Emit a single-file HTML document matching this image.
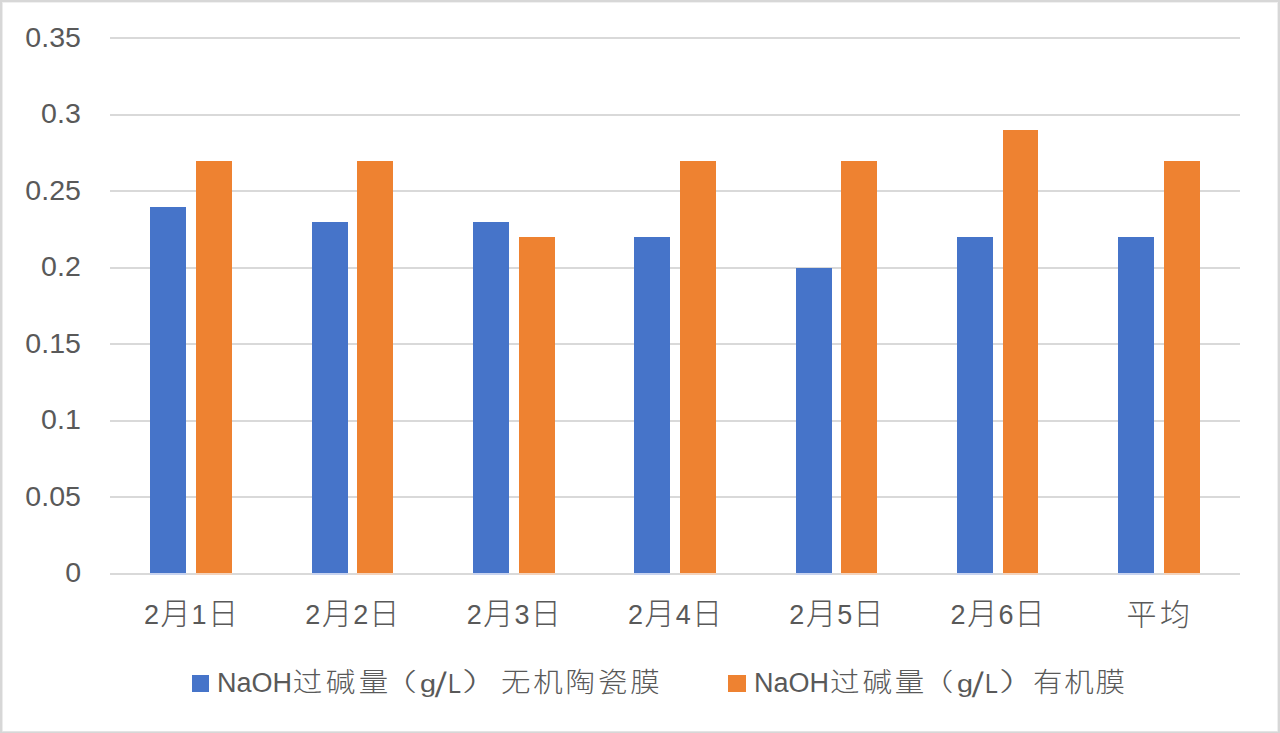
<!DOCTYPE html>
<html><head><meta charset="utf-8">
<style>
html,body{margin:0;padding:0;background:#fff;}
#c{position:relative;width:1280px;height:733px;overflow:hidden;background:#fff;}
.bd{position:absolute;background:#d7d7d7;}
.gl{position:absolute;left:110px;width:1130px;height:2px;background:#d9d9d9;}
.bar{position:absolute;}
.sq{position:absolute;}
#c span{white-space:pre;color:#595959;line-height:1;font-family:"Liberation Sans","Noto Sans CJK SC",sans-serif;}
#c span.solo{position:absolute;}
#c span.grp{position:absolute;left:0;top:0;font-size:0;}
#c span.ch{position:relative;display:inline-block;vertical-align:top;}
#c span.ylab{font-size:27.2px;display:inline-block;transform:scaleX(1.05);transform-origin:100% 0;}
#c span.lat{font-size:27px;}
#c span.cjkx{font-size:30px;font-weight:300;}
#c span.sl{font-size:33px;}
#c span.cjkp{font-size:29.5px;font-weight:300;}
#c span.cjk{font-size:29.5px;font-weight:300;display:inline-block;transform:scaleY(0.94);transform-origin:0 0;}
</style></head><body>
<div id="c">
<div class="bd" style="left:0;top:2px;width:1280px;height:1px;background:#f0f0f0"></div>
<div class="bd" style="left:2px;top:0;width:1px;height:733px;background:#ececec"></div>
<div class="bd" style="left:1277px;top:0;width:1px;height:733px;background:#efefef"></div>
<div class="bd" style="left:0;top:731px;width:1280px;height:1px;background:#e4e4e4"></div>
<div class="bd" style="left:0;top:0;width:1280px;height:2px"></div>
<div class="bd" style="left:0;top:0;width:2px;height:733px"></div>
<div class="bd" style="left:1278px;top:0;width:2px;height:733px"></div>
<div class="bd" style="left:0;top:732px;width:1280px;height:1px"></div>
<div class="gl" style="top:37.00px"></div>
<div class="gl" style="top:113.52px"></div>
<div class="gl" style="top:190.04px"></div>
<div class="gl" style="top:266.56px"></div>
<div class="gl" style="top:343.08px"></div>
<div class="gl" style="top:419.60px"></div>
<div class="gl" style="top:496.12px"></div>
<div class="gl" style="top:573px"></div>
<div class="bar" style="left:150.30px;top:206.71px;width:36.2px;height:366.29px;background:#4674C9"></div>
<div class="bar" style="left:150.30px;top:573px;width:36.2px;height:2px;background:#c8d3ee"></div>
<div class="bar" style="left:196.10px;top:160.71px;width:35.8px;height:412.29px;background:#EE8231"></div>
<div class="bar" style="left:196.10px;top:573px;width:35.8px;height:2px;background:#f2d3bd"></div>
<div class="bar" style="left:311.62px;top:222.04px;width:36.2px;height:350.96px;background:#4674C9"></div>
<div class="bar" style="left:311.62px;top:573px;width:36.2px;height:2px;background:#c8d3ee"></div>
<div class="bar" style="left:357.42px;top:160.71px;width:35.8px;height:412.29px;background:#EE8231"></div>
<div class="bar" style="left:357.42px;top:573px;width:35.8px;height:2px;background:#f2d3bd"></div>
<div class="bar" style="left:472.94px;top:222.04px;width:36.2px;height:350.96px;background:#4674C9"></div>
<div class="bar" style="left:472.94px;top:573px;width:36.2px;height:2px;background:#c8d3ee"></div>
<div class="bar" style="left:518.74px;top:237.37px;width:35.8px;height:335.63px;background:#EE8231"></div>
<div class="bar" style="left:518.74px;top:573px;width:35.8px;height:2px;background:#f2d3bd"></div>
<div class="bar" style="left:634.26px;top:237.37px;width:36.2px;height:335.63px;background:#4674C9"></div>
<div class="bar" style="left:634.26px;top:573px;width:36.2px;height:2px;background:#c8d3ee"></div>
<div class="bar" style="left:680.06px;top:160.71px;width:35.8px;height:412.29px;background:#EE8231"></div>
<div class="bar" style="left:680.06px;top:573px;width:35.8px;height:2px;background:#f2d3bd"></div>
<div class="bar" style="left:795.58px;top:268.04px;width:36.2px;height:304.96px;background:#4674C9"></div>
<div class="bar" style="left:795.58px;top:573px;width:36.2px;height:2px;background:#c8d3ee"></div>
<div class="bar" style="left:841.38px;top:160.71px;width:35.8px;height:412.29px;background:#EE8231"></div>
<div class="bar" style="left:841.38px;top:573px;width:35.8px;height:2px;background:#f2d3bd"></div>
<div class="bar" style="left:956.90px;top:237.37px;width:36.2px;height:335.63px;background:#4674C9"></div>
<div class="bar" style="left:956.90px;top:573px;width:36.2px;height:2px;background:#c8d3ee"></div>
<div class="bar" style="left:1002.70px;top:130.04px;width:35.8px;height:442.96px;background:#EE8231"></div>
<div class="bar" style="left:1002.70px;top:573px;width:35.8px;height:2px;background:#f2d3bd"></div>
<div class="bar" style="left:1118.22px;top:237.37px;width:36.2px;height:335.63px;background:#4674C9"></div>
<div class="bar" style="left:1118.22px;top:573px;width:36.2px;height:2px;background:#c8d3ee"></div>
<div class="bar" style="left:1164.02px;top:160.71px;width:35.8px;height:412.29px;background:#EE8231"></div>
<div class="bar" style="left:1164.02px;top:573px;width:35.8px;height:2px;background:#f2d3bd"></div>
<div class="sq" style="left:191.5px;top:674.8px;width:17.5px;height:16.8px;background:#4674C9"></div>
<div class="sq" style="left:728.2px;top:674.8px;width:17.5px;height:16.8px;background:#EE8231"></div>
<span class="grp"><span class="lat ch" id="g0_0" style="left:144.00px;top:601.60px;">2</span><span class="cjkx ch" id="g0_1" style="left:145.57px;top:599.40px;">月</span><span class="lat ch" id="g0_2" style="left:146.37px;top:601.60px;">1</span><span class="cjkx ch" id="g0_3" style="left:147.94px;top:598.60px;">日</span></span>
<span class="grp"><span class="lat ch" id="g1_0" style="left:305.32px;top:601.60px;">2</span><span class="cjkx ch" id="g1_1" style="left:306.89px;top:599.40px;">月</span><span class="lat ch" id="g1_2" style="left:308.19px;top:601.60px;">2</span><span class="cjkx ch" id="g1_3" style="left:309.26px;top:598.60px;">日</span></span>
<span class="grp"><span class="lat ch" id="g2_0" style="left:466.64px;top:601.60px;">2</span><span class="cjkx ch" id="g2_1" style="left:468.21px;top:599.40px;">月</span><span class="lat ch" id="g2_2" style="left:469.51px;top:601.60px;">3</span><span class="cjkx ch" id="g2_3" style="left:470.58px;top:598.60px;">日</span></span>
<span class="grp"><span class="lat ch" id="g3_0" style="left:627.96px;top:601.60px;">2</span><span class="cjkx ch" id="g3_1" style="left:629.53px;top:599.40px;">月</span><span class="lat ch" id="g3_2" style="left:630.83px;top:601.60px;">4</span><span class="cjkx ch" id="g3_3" style="left:631.90px;top:598.60px;">日</span></span>
<span class="grp"><span class="lat ch" id="g4_0" style="left:789.28px;top:601.60px;">2</span><span class="cjkx ch" id="g4_1" style="left:790.85px;top:599.40px;">月</span><span class="lat ch" id="g4_2" style="left:792.15px;top:601.60px;">5</span><span class="cjkx ch" id="g4_3" style="left:793.22px;top:598.60px;">日</span></span>
<span class="grp"><span class="lat ch" id="g5_0" style="left:950.60px;top:601.60px;">2</span><span class="cjkx ch" id="g5_1" style="left:952.17px;top:599.40px;">月</span><span class="lat ch" id="g5_2" style="left:953.47px;top:601.60px;">6</span><span class="cjkx ch" id="g5_3" style="left:954.54px;top:598.60px;">日</span></span>
<span class="cjkx solo" id="g6_0" style="left:1126.40px;top:599.90px;letter-spacing:3.70px;">平均</span>
<span class="ylab solo" id="g7_0" style="left:27.50px;top:23.65px;">0.35</span>
<span class="ylab solo" id="g8_0" style="left:42.50px;top:100.17px;">0.3</span>
<span class="ylab solo" id="g9_0" style="left:27.50px;top:176.69px;">0.25</span>
<span class="ylab solo" id="g10_0" style="left:42.50px;top:253.21px;">0.2</span>
<span class="ylab solo" id="g11_0" style="left:27.50px;top:329.73px;">0.15</span>
<span class="ylab solo" id="g12_0" style="left:42.50px;top:406.25px;">0.1</span>
<span class="ylab solo" id="g13_0" style="left:27.50px;top:482.77px;">0.05</span>
<span class="ylab solo" id="g14_0" style="left:65.50px;top:559.29px;">0</span>
<span class="grp"><span class="lat ch" id="g15_0" style="left:216.90px;top:670.40px;">NaOH</span><span class="cjk ch" id="g15_1" style="left:217.78px;top:667.50px;letter-spacing:3.50px;">过碱量</span><span class="cjkp ch" id="g15_2" style="left:204.97px;top:670.00px;transform:scale(1.286,0.832);transform-origin:0 0;">（</span><span class="lat ch" id="g15_3" style="left:216.29px;top:671.90px;transform:scale(1.067,0.914);transform-origin:0 0;">g</span><span class="sl ch" id="g15_4" style="left:219.49px;top:666.72px;transform:skewX(-6.22deg) scaleY(1.071);transform-origin:0 0;">/</span><span class="lat ch" id="g15_5" style="left:220.12px;top:670.60px;transform:scale(0.867,1.000);transform-origin:0 0;">L</span><span class="cjkp ch" id="g15_6" style="left:219.29px;top:669.60px;transform:scale(1.467,0.857);transform-origin:0 0;">）</span> <span class="cjk ch" id="g15_7" style="left:228.70px;top:667.50px;letter-spacing:2.82px;">无机陶瓷膜</span></span>
<span class="grp"><span class="lat ch" id="g16_0" style="left:753.90px;top:670.40px;">NaOH</span><span class="cjk ch" id="g16_1" style="left:754.98px;top:667.50px;letter-spacing:2.90px;">过碱量</span><span class="cjkp ch" id="g16_2" style="left:746.68px;top:669.90px;transform:scale(1.171,0.836);transform-origin:0 0;">（</span><span class="lat ch" id="g16_3" style="left:755.20px;top:672.00px;transform:scale(1.067,0.900);transform-origin:0 0;">g</span><span class="sl ch" id="g16_4" style="left:758.10px;top:666.72px;transform:skewX(-6.22deg) scaleY(1.071);transform-origin:0 0;">/</span><span class="lat ch" id="g16_5" style="left:759.05px;top:670.60px;transform:scale(0.858,1.000);transform-origin:0 0;">L</span><span class="cjkp ch" id="g16_6" style="left:758.10px;top:669.60px;transform:scale(1.467,0.857);transform-origin:0 0;">）</span> <span class="cjk ch" id="g16_7" style="left:762.62px;top:667.50px;letter-spacing:1.65px;">有机膜</span></span>
</div>
</body></html>
